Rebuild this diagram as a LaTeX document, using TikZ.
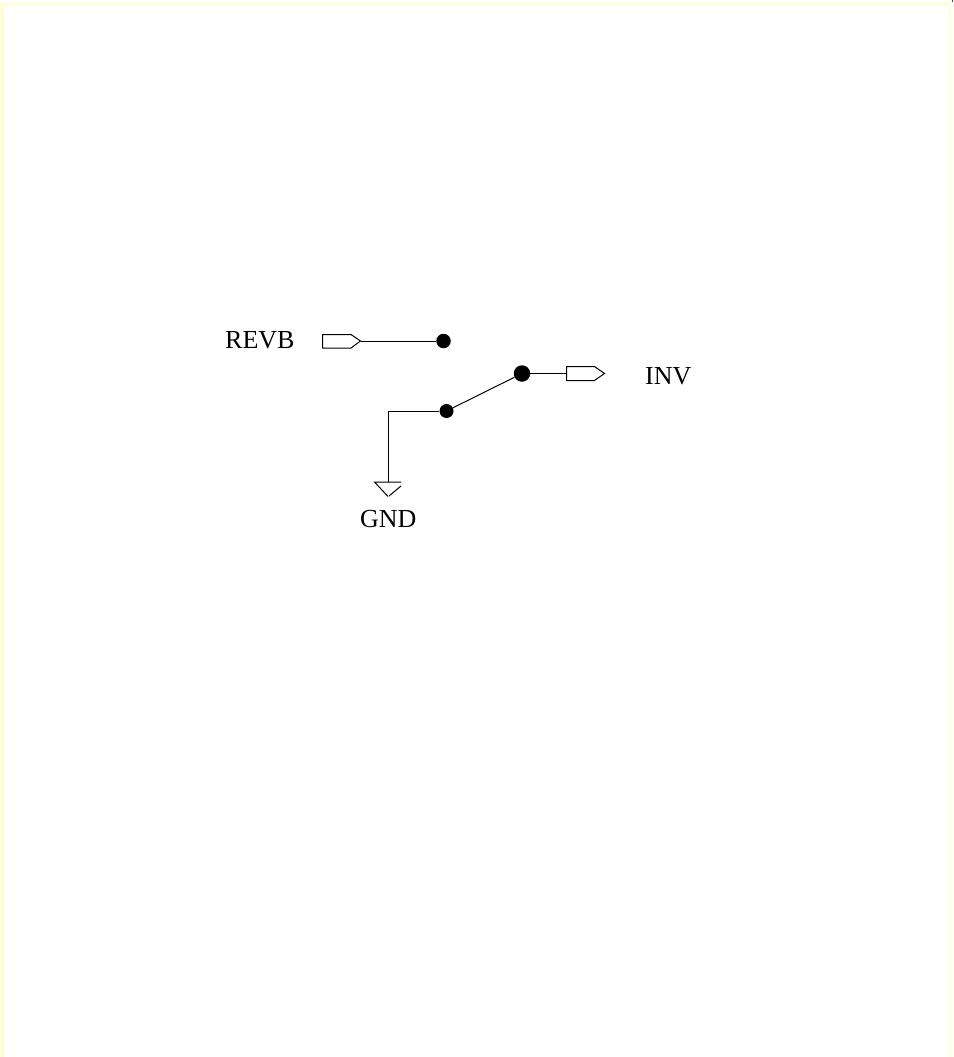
\documentclass[tikz,border=0pt]{standalone}
\usepackage{fontspec}
\setmainfont{Liberation Serif}
\usetikzlibrary{shapes.geometric}
\definecolor{pageedge}{HTML}{FFFFC8}
\tikzset{
  wire/.style={draw=black,line width=1pt},
  pin/.style={draw=black,line width=1pt,fill=white},
  dot/.style={ellipse,fill=black,inner sep=0pt,minimum width=#1,minimum height=#1},
  label/.style={inner sep=0pt,font=\fontsize{26}{30}\selectfont}
}
\begin{document}
\begin{tikzpicture}[x=1pt,y=-1pt]
\useasboundingbox (0,0) rectangle (953,1057);
\fill[white] (0,0) rectangle (953,1057);
\draw[pageedge,line width=2.5pt] (2.5,1057) -- (2.5,4) -- (950,4) -- (950,1057);
\fill[black!70] (951.5,0) rectangle (953,2);
% nodes
\node[dot=14.5pt] (d1) at (443.5,341) {};
\node[dot=14pt] (d2) at (446.5,411) {};
\node[dot=16.5pt] (d3) at (522,373.5) {};
\coordinate (revbtip) at (360.5,341);
\coordinate (invtail) at (566.5,373.5);
\coordinate (gndtop) at (388,482);
\coordinate (corner) at (388,410.5);
% pins
\draw[pin] (322.5,334.5) -- (351,334.5) -- (revbtip) -- (351,348) -- (322.5,348) -- cycle;
\draw[pin] (invtail) ++(0,-7) -- (594.5,366.5) -- (604.5,373.5) -- (594.5,380.5) -- (566.5,380.5) -- cycle;
\draw[wire] (401,482) -- (374.5,482) -- (388,496.5);
\draw[wire] (389,496) -- (401,486);
% wires
\draw[wire] (revbtip) -- (d1);
\draw[wire] (d2) -- (d3);
\draw[wire] (d3) -- (invtail);
\draw[wire] (d2) -- (d2 -| corner) -- (gndtop);
% labels
\node[label,anchor=base west] (revb) at (225,348.5) {REVB};
\node[label,anchor=base west] (inv) at (645,384) {INV};
\node[label,anchor=base west] (gnd) at (360,527) {GND};
\end{tikzpicture}
\end{document}
